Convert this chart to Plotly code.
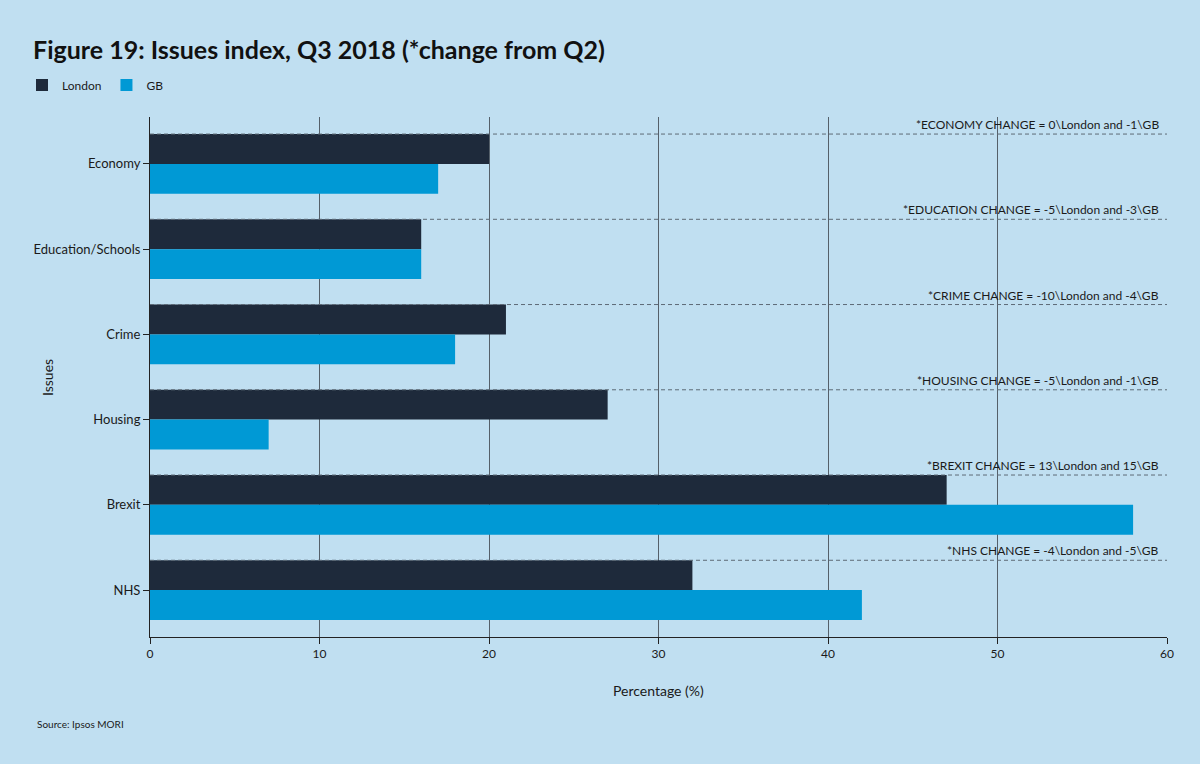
import plotly.graph_objects as go

categories = ["Economy", "Education/Schools", "Crime", "Housing", "Brexit", "NHS"]
london = [20, 16, 21, 27, 47, 32]
gb = [17, 16, 18, 7, 58, 42]
change_notes = [
    "*ECONOMY CHANGE = 0\\London and -1\\GB",
    "*EDUCATION CHANGE = -5\\London and -3\\GB",
    "*CRIME CHANGE = -10\\London and -4\\GB",
    "*HOUSING CHANGE = -5\\London and -1\\GB",
    "*BREXIT CHANGE = 13\\London and 15\\GB",
    "*NHS CHANGE = -4\\London and -5\\GB",
]
x_ticks = [0, 10, 20, 30, 40, 50, 60]

BG = "#c0dff1"
FONT = "Lato"
TXT = "#1a1a1a"

L, R, T, B = 150, 33, 117, 127
PW, PH = 1200 - L - R, 764 - T - B


def px_x(x):
    return (x - L) / PW


def px_y(y):
    return (764 - B - y) / PH


fig = go.Figure()
fig.add_trace(go.Bar(y=categories, x=london, name="London", orientation="h",
                     marker=dict(color="#1e2a3b", line=dict(width=0))))
fig.add_trace(go.Bar(y=categories, x=gb, name="GB", orientation="h",
                     marker=dict(color="#0099d5", line=dict(width=0))))

shapes = []
annotations = []
for i, note in enumerate(change_notes):
    yv = i - 0.35
    shapes.append(dict(type="line", xref="paper", x0=0, x1=1, yref="y", y0=yv, y1=yv,
                       line=dict(color="#5d6a76", width=1, dash="4px,3px"), layer="above"))
    annotations.append(dict(xref="paper", x=1, y=yv, yref="y", xanchor="right", yanchor="bottom",
                            xshift=-6, yshift=0, text=note, showarrow=False,
                            font=dict(family=FONT, size=12, color=TXT)))

annotations.append(dict(xref="paper", yref="paper", x=px_x(35), y=px_y(724),
                        xanchor="left", yanchor="middle", text="Source: Ipsos MORI",
                        showarrow=False, font=dict(family=FONT, size=10, color=TXT)))
annotations.append(dict(xref="paper", yref="paper", x=px_x(47), y=px_y(378),
                        xanchor="center", yanchor="middle", text="Issues", textangle=-90,
                        showarrow=False, font=dict(family=FONT, size=14, color=TXT)))
annotations.append(dict(xref="paper", yref="paper", x=px_x(658), y=px_y(690),
                        xanchor="center", yanchor="middle", text="Percentage (%)",
                        showarrow=False, font=dict(family=FONT, size=14, color=TXT)))

fig.update_layout(
    width=1200, height=764,
    paper_bgcolor=BG, plot_bgcolor=BG,
    font=dict(family=FONT, size=12, color=TXT),
    margin=dict(l=L, r=R, t=T, b=B, autoexpand=False),
    barmode="group", bargap=0.3, bargroupgap=0,
    title=dict(text="<b>Figure 19: Issues index, Q3 2018 (*change from Q2)</b>",
               xref="container", yref="container", x=33/1200, y=1-50/764,
               xanchor="left", yanchor="middle",
               font=dict(family=FONT, size=25, color="#111111")),
    legend=dict(orientation="h", xref="container", yref="container",
                x=22/1200, y=1-85/764, xanchor="left", yanchor="middle",
                font=dict(family=FONT, size=12, color=TXT), bgcolor="rgba(0,0,0,0)",
                itemwidth=30, traceorder="normal"),
    xaxis=dict(range=[0, 60], tickvals=x_ticks, showgrid=True, gridcolor="#55606a",
               gridwidth=1, zeroline=False, showline=True, linecolor="#222222", linewidth=1,
               ticks="outside", ticklen=6, tickcolor="#222222", automargin=False,
               tickfont=dict(family=FONT, size=12, color=TXT)),
    yaxis=dict(type="category", categoryorder="array", categoryarray=categories,
               range=[5.55, -0.55], showgrid=False, zeroline=False,
               showline=True, linecolor="#222222", linewidth=1,
               ticks="outside", ticklen=6, tickcolor="#222222", automargin=False,
               tickfont=dict(family=FONT, size=13, color=TXT)),
    shapes=shapes,
    annotations=annotations,
    showlegend=True,
)

fig.write_html("out.html", config={"displayModeBar": False},
               post_script="document.body.style.margin='0';")
